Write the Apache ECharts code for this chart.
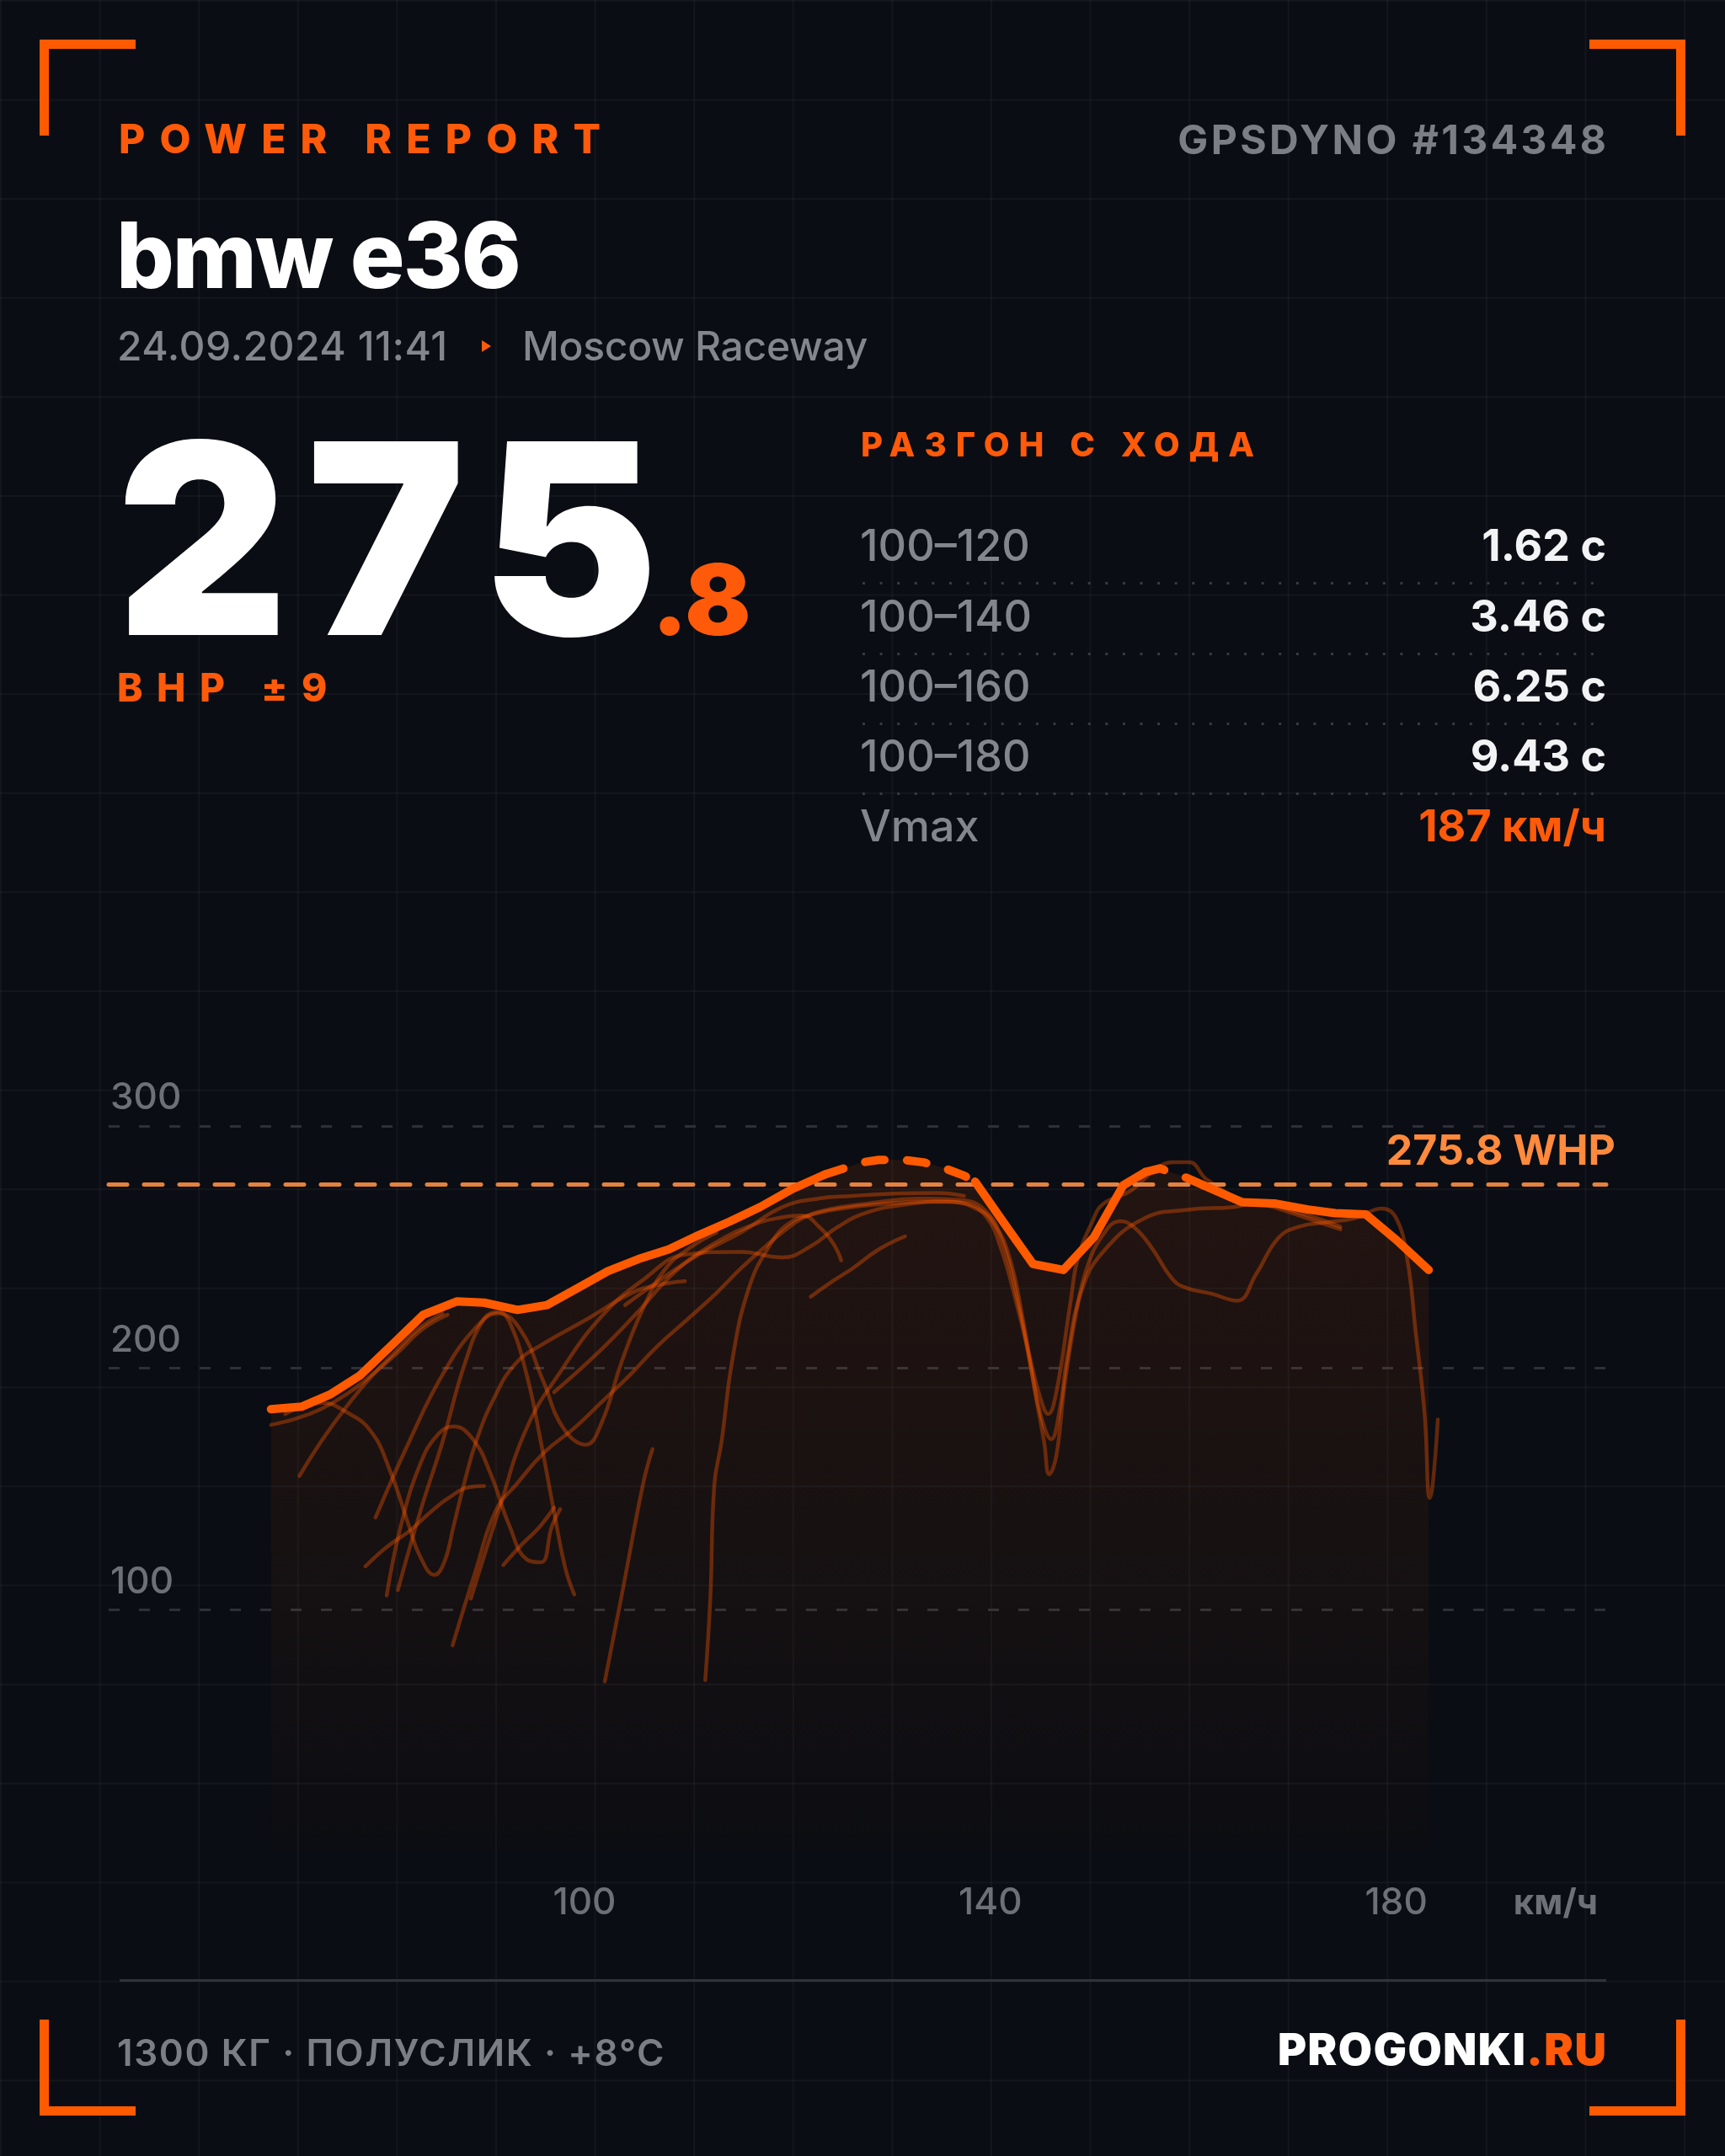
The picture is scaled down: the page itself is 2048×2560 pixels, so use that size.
<!DOCTYPE html>
<html>
<head>
<meta charset="utf-8">
<script src="https://cdn.jsdelivr.net/npm/echarts@6/dist/echarts.min.js"></script>
<style>
html,body{margin:0;padding:0;}
body{width:2048px;height:2560px;position:relative;overflow:hidden;background-color:#0a0d13;
background-image:linear-gradient(to right, rgba(255,255,255,0.035) 2px, transparent 2px),linear-gradient(to bottom, rgba(255,255,255,0.035) 2px, transparent 2px);
background-size:117.6px 117.6px;font-family:Inter,'Noto Sans',sans-serif;}
#chart{position:absolute;left:0;top:0;width:2048px;height:2560px;z-index:1;}
.t{position:absolute;white-space:nowrap;line-height:1;z-index:2;}
.br{position:absolute;background:#ff5a00;z-index:2;}
.dots{position:absolute;left:1024px;width:884px;height:3px;z-index:2;
background-image:linear-gradient(to right,#383b42 3px,transparent 3px);background-size:20.6px 3px;background-repeat:repeat-x;}
</style>
</head>
<body>
<div id="chart"></div>

<div class="br" style="left:47px;top:47px;width:114px;height:11px"></div>
<div class="br" style="left:47px;top:47px;width:11px;height:114px"></div>
<div class="br" style="left:1887px;top:47px;width:114px;height:11px"></div>
<div class="br" style="left:1990px;top:47px;width:11px;height:114px"></div>
<div class="br" style="left:47px;top:2501px;width:114px;height:11px"></div>
<div class="br" style="left:47px;top:2398px;width:11px;height:114px"></div>
<div class="br" style="left:1887px;top:2501px;width:114px;height:11px"></div>
<div class="br" style="left:1990px;top:2398px;width:11px;height:114px"></div>

<div id="texts"></div>

<script>
// ---------- data ----------
const reportTitle = 'POWER REPORT';
const dynoId = 'GPSDYNO #134348';
const carName = 'bmw e36';
const runDate = '24.09.2024 11:41';
const trackName = 'Moscow Raceway';
const peakInt = '275';
const peakDec = '.8';
const peakWhp = 275.8;
const bhpNote = 'BHP ±9';
const accelTitle = 'РАЗГОН С ХОДА';
const accelLabels = ['100–120', '100–140', '100–160', '100–180', 'Vmax'];
const accelValues = ['1.62 с', '3.46 с', '6.25 с', '9.43 с', '187 км/ч'];
const footerInfo = '1300 КГ · ПОЛУСЛИК · +8°С';
const brandMain = 'PROGONKI';
const brandTld = '.RU';

const xTicks = [100, 140, 180];
const xUnit = 'км/ч';

// main (best) power curve: speed km/h, whp
const mainSpeed = [69.1,72.1,74.9,77.9,80.9,84.1,87.4,90.1,93.4,96.3,99.3,102.3,105.3,108.3,111.3,114.3,117.3,120.5,123.7,127.4,129.0,131.5,133.4,135.5,137.4,138.5,141.5,144.2,147.2,150.2,153.1,155.3,156.7,159.4,161.0,164.8,168.0,171.3,174.0,177.0,180.0,183.2];
const mainWhp   = [183,184,189,197,209,222,227.5,227,224,226,233,240,245,249,255,260.5,266.5,274,280,285,286,286,285,282.5,279.5,277,259,243,240.5,254,275.5,281,282.5,278.5,275.5,268.5,268,265.5,264,263.5,253,240.5];
// index ranges of the main curve drawn dashed
const dashRanges = [[18,25],[31,34]];

// individual runs (thin traces): [speed, whp]
const run01 = [[69.1,176.5],[71.5,179],[74,183],[76.5,189],[79,197],[81.5,206],[84,216],[86.5,222]];
const run02 = [[71.9,155.4],[74.2,170.6],[76.4,183.3],[78.9,196],[81.2,206],[83.6,216],[86,222.5]];
const run03 = [[70.5,181],[72.5,184.5],[74.2,185.6],[76.4,182.1],[78.9,174.1],[80.8,157.9],[82.7,134.8],[83.8,122.1],[85.2,114.5],[86.2,120],[87.1,134.8],[88.2,153.3],[89.3,169.4],[91,186.8],[93.2,201.8],[95.9,209.9],[100.3,220.3],[104.5,230.7],[107.1,234.2],[109.9,235.9]];
const run04 = [[79.4,138.2],[82.7,169.4],[86,197.2],[89.3,216.8],[91.5,222.6],[93.7,215.7],[95.9,194.9],[97.9,175.2],[100.1,168.3],[101.7,177.5],[103.6,201.8],[105.8,224.9],[108,241.1],[110.5,250],[113,256]];
const run05 = [[81.6,108.2],[83.8,140.5],[86,169.4],[88.2,201.8],[90.1,220.3],[91.5,223.2],[92.6,219.1],[94.3,197.2],[95.7,169.4],[97,140.5],[98.1,117.4],[99,106.4]];
const run06 = [[80.5,106],[81.9,134.8],[83.8,160.2],[85.5,172.3],[87.1,175.8],[89,170.6],[90.7,156.7],[92.6,134.8],[94.3,120.9],[95.7,119.7],[96.8,134.8],[97.6,141.7]];
const run07 = [[78.4,118],[80.5,126],[82.7,132.5],[84.7,140],[86.6,146.3],[88.8,150.9],[90.1,151.2]];
const run08 = [[92,118.6],[93.8,127],[95.5,134],[97,142.3]];
const run09 = [[87,85.4],[89.2,115.3],[91.3,141.4],[93.3,152],[96,165],[99,175.2],[101.7,186],[104.5,197.2],[107.1,208.7],[110.2,220.3],[113,231],[115.4,241.1],[117.5,249],[119.5,256.1],[121.5,261.9],[124,265.5],[128,268],[133,270],[137,269.5],[139.5,265],[141.2,252],[142.7,228],[144,200],[145,180],[146,170.6],[146.8,182],[147.6,205],[149,232],[151.1,248],[155.2,261.9],[159.4,265.4],[164,266.5],[166.2,268.2],[170.4,264.2],[174.5,258.4]];
const run10 = [[102,70.5],[103.8,109],[105.8,152.6],[106.7,166.5]];
const run11 = [[111.9,71],[112.4,105],[112.8,152],[113.5,169.4],[114.6,204.1],[116.2,233],[118.2,250.3],[120.1,259.6],[122.6,263.6],[125.5,266],[129.2,267.7],[134.7,268.8],[137.5,268],[139.5,263],[141,250],[142.5,228],[143.8,206],[144.9,188],[145.7,181],[146.5,190],[147.9,227.2],[148.6,245],[150,260],[151.1,267.7],[153.9,273.4],[156.1,281.5],[158,285],[159.6,285],[161.3,278],[164.6,270],[167.9,266.5],[171.2,261.9],[174.5,257.3]];
const run12 = [[88.8,104.7],[91.5,140.5],[94.3,175.2],[97.6,198.3],[101.7,221.4],[105.8,236.5],[110,246.9],[115.4,248],[119.5,245.7],[122.3,250.3],[125,258.4],[127.8,264.2],[131.9,267.7],[136,268.8],[138.8,265.4],[140.2,260.7],[141.8,246.9],[143.2,220.3],[144.3,192.5],[145.3,169.4],[145.8,156.1],[146.5,163.7],[147.3,192.5],[148.4,221.4],[149.5,241.1],[151.1,255],[152.8,260.7],[154.1,258.4],[155.8,250.3],[158,236.5],[159.4,233],[161.8,230.7],[164.3,227.8],[166.2,238.8],[168.4,253.8],[170.4,258.4],[173.1,260.2],[175.9,261.9],[178.6,265.9],[180,261.9],[181.1,244.6],[181.9,215.7],[182.8,181],[183.3,146.3],[183.6,152],[184.1,178.7]];
const run13 = [[97,190],[101,205],[105,222],[109,240],[113,252],[116.5,259],[119,261.9],[121.5,263],[123.1,258.4],[124.5,251.5],[125.3,244.5]];
const run14 = [[122.3,229.5],[124.5,236],[126.4,241.1],[129,249],[131.6,254.4]];
const run15 = [[104,226],[108,238],[111.3,247],[115.4,256],[119.5,266.5],[123,270],[126.4,271.1],[130,272],[134.7,272.3],[137.4,271.1]];
const runTraces = [run01,run02,run03,run04,run05,run06,run07,run08,run09,run10,run11,run12,run13,run14,run15];

// ---------- text layer ----------
const ORANGE = '#ff5a0a';
const GRAY = '#83868d';
const tx = document.getElementById('texts');
function addText(html, css) {
  const d = document.createElement('div');
  d.className = 't';
  d.style.cssText = css;
  d.innerHTML = html;
  tx.appendChild(d);
  return d;
}
// css top from baseline: baseline - 0.863 * fontSize (Inter, line-height 1)
function fromBase(baseline, fs) { return (baseline - 0.863 * fs).toFixed(1) + 'px'; }

addText(reportTitle, `left:141px;top:${fromBase(182,48)};font-size:48px;font-weight:800;letter-spacing:17.2px;color:${ORANGE};`);
addText(dynoId, `right:137.6px;top:${fromBase(183,48)};font-size:48px;font-weight:700;letter-spacing:3.4px;color:#7b7e85;`);
addText(carName, `left:138px;top:${fromBase(342,108)};font-size:108px;font-weight:800;letter-spacing:-2px;color:#ffffff;`);
addText(runDate, `left:139px;top:${fromBase(428,48)};font-size:48px;font-weight:500;letter-spacing:0.5px;color:${GRAY};`);
const tri = document.createElement('div');
tri.style.cssText = 'position:absolute;left:572px;top:404px;width:0;height:0;border-top:7px solid transparent;border-bottom:7px solid transparent;border-left:11px solid #ff5a0a;z-index:2;';
tx.appendChild(tri);
addText(trackName, `left:620px;top:${fromBase(428,48)};font-size:48px;font-weight:500;letter-spacing:-0.3px;color:${GRAY};`);

addText(`${peakInt}<span style="font-size:116px;color:${ORANGE};margin-left:-30px;letter-spacing:0">${peakDec}</span>`,
  `left:138px;top:${fromBase(754,316)};font-size:316px;font-weight:900;letter-spacing:22px;color:#ffffff;`);
addText(bhpNote, `left:139px;top:${fromBase(833,46)};font-size:46px;font-weight:800;letter-spacing:16.5px;color:${ORANGE};`);

addText(accelTitle, `left:1022px;top:${fromBase(542,40)};font-size:40px;font-weight:800;letter-spacing:11px;color:${ORANGE};`);
const rowBase = [667, 751, 834, 917, 1000];
accelLabels.forEach((lab, i) => {
  addText(lab, `left:1021px;top:${fromBase(rowBase[i],52)};font-size:52px;font-weight:500;letter-spacing:0;color:${GRAY};`);
  const last = i === accelLabels.length - 1;
  addText(accelValues[i], `right:141px;top:${fromBase(rowBase[i],52)};font-size:52px;font-weight:700;letter-spacing:0;color:${last ? ORANGE : '#f2f3f5'};`);
});
[692, 776, 859, 942].forEach(y => {
  const d = document.createElement('div');
  d.className = 'dots';
  d.style.top = (y - 1.5) + 'px';
  tx.appendChild(d);
});
const sep = document.createElement('div');
sep.style.cssText = 'position:absolute;left:142px;top:2350px;width:1765px;height:3px;background:#30333a;z-index:2;';
tx.appendChild(sep);
addText(footerInfo, `left:139px;top:${fromBase(2453,44)};font-size:44px;font-weight:600;letter-spacing:1.6px;color:#7b7e85;`);
addText(`${brandMain}<span style="color:${ORANGE}">${brandTld}</span>`, `right:139.5px;top:${fromBase(2453,52)};font-size:52px;font-weight:900;letter-spacing:1.5px;color:#ffffff;`);

// ---------- chart ----------
const chart = echarts.init(document.getElementById('chart'), null, { renderer: 'canvas', width: 2048, height: 2560 });
const AXC = '#6d7077';
const mainPairs = mainSpeed.map((s, i) => [s, mainWhp[i]]);
function inDash(i, interiorOnly) {
  return dashRanges.some(([a, b]) => interiorOnly ? (i > a && i < b) : (i >= a && i <= b));
}
const solidPairs = mainSpeed.map((s, i) => [s, inDash(i, true) ? '-' : mainWhp[i]]);
const dashPairs = mainSpeed.map((s, i) => [s, inDash(i, false) ? mainWhp[i] : '-']);

const series = [];
series.push({
  type: 'line', data: mainPairs, symbol: 'none', silent: true, z: 1,
  lineStyle: { width: 0, opacity: 0 },
  areaStyle: {
    color: { type: 'linear', x: 0, y: 0, x2: 0, y2: 1, colorStops: [
      { offset: 0, color: 'rgba(255,90,0,0.15)' },
      { offset: 0.55, color: 'rgba(255,90,0,0.08)' },
      { offset: 1, color: 'rgba(255,90,0,0.015)' }
    ] }
  }
});
runTraces.forEach(tr => series.push({
  type: 'line', data: tr, symbol: 'none', smooth: 0.45, silent: true, z: 2,
  lineStyle: { color: 'rgba(255,90,0,0.36)', width: 4.5, cap: 'round' }
}));
series.push({
  type: 'line', data: solidPairs, symbol: 'none', connectNulls: false, silent: true, z: 5,
  lineStyle: { color: '#ff5a00', width: 10, cap: 'round', join: 'round' }
});
series.push({
  type: 'line', data: dashPairs, symbol: 'none', connectNulls: false, silent: true, z: 5,
  lineStyle: { color: '#ff5a00', width: 10, type: [23, 27], cap: 'round', join: 'round' }
});
series.push({
  type: 'line', data: [], symbol: 'none', silent: true, z: 6,
  markLine: {
    symbol: 'none', silent: true, animation: false,
    lineStyle: { color: '#e4823f', width: 5, type: [22, 20], cap: 'round' },
    label: {
      show: true, position: 'insideEndTop', distance: [-11, 14],
      formatter: peakWhp.toFixed(1) + ' WHP',
      color: '#ff8a3d', fontSize: 50, fontWeight: 700, fontFamily: 'Inter', lineHeight: 50
    },
    data: [{ yAxis: peakWhp }]
  }
});

chart.setOption({
  backgroundColor: 'transparent',
  animation: false,
  grid: { left: 129, right: 141, top: 1337, bottom: 361, containLabel: false },
  xAxis: {
    type: 'value', min: 53.1, max: 200.7,
    axisLine: { show: false }, axisTick: { show: false }, splitLine: { show: false },
    axisLabel: { customValues: xTicks, color: AXC, fontSize: 44, fontWeight: 500, fontFamily: 'Inter', margin: 39, lineHeight: 44 },
    name: xUnit, nameLocation: 'end', nameGap: -10,
    nameTextStyle: { color: AXC, fontSize: 42, fontWeight: 700, fontFamily: 'Inter', align: 'right', verticalAlign: 'top', lineHeight: 44, padding: [39, 0, 0, 0] }
  },
  yAxis: {
    type: 'value', min: 0, max: 300, interval: 100,
    axisLine: { show: false }, axisTick: { show: false },
    axisLabel: { inside: true, showMinLabel: false, margin: 2, color: AXC, fontSize: 44, fontWeight: 500, fontFamily: 'Inter', verticalAlign: 'bottom', lineHeight: 44, padding: [0, 0, 11, 0] },
    splitLine: { show: true, lineStyle: { color: ['transparent', '#2d3037', '#2d3037', '#2d3037'], width: 3, type: [13, 23] } }
  },
  series: series
});
</script>
</body>
</html>
